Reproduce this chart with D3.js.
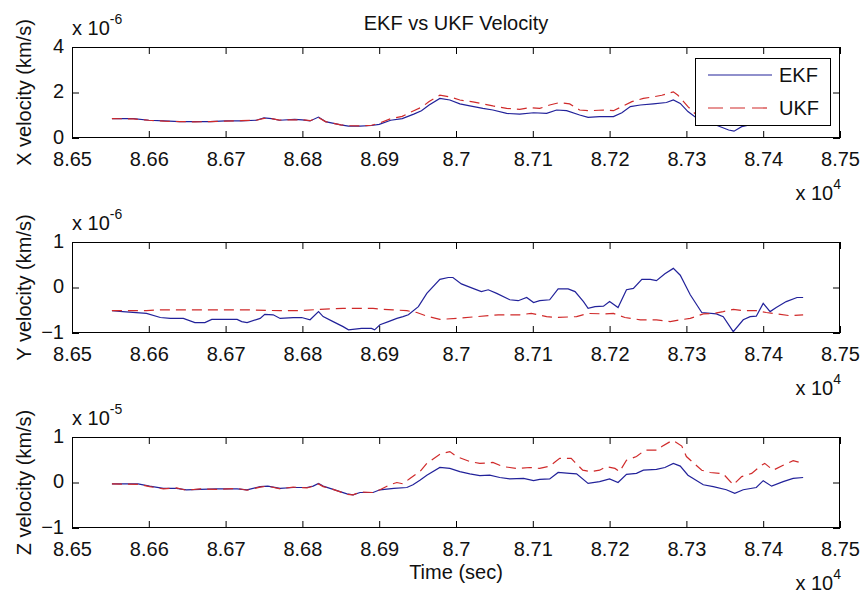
<!DOCTYPE html>
<html>
<head>
<meta charset="utf-8">
<script src="https://cdn.jsdelivr.net/npm/d3@7/dist/d3.min.js"></script>
<style>
  html, body { margin: 0; padding: 0; background: #ffffff; }
  svg { display: block; }
  text { font-family: "Liberation Sans", Arial, Helvetica, sans-serif; fill: #111; }
</style>
</head>
<body>
<svg id="fig" width="863" height="597"></svg>
<script>
// ---- time axis ----
const xTickValues = [86500, 86600, 86700, 86800, 86900, 87000, 87100, 87200, 87300, 87400, 87500];
const xTickLabels = ["8.65", "8.66", "8.67", "8.68", "8.69", "8.7", "8.71", "8.72", "8.73", "8.74", "8.75"];

// ---- X velocity (x 1e-6 km/s) ----
const xEkfT = [86552, 86580, 86600, 86620, 86640, 86660, 86680, 86700, 86720, 86740, 86750, 86760, 86770, 86790, 86800, 86810, 86821, 86830, 86850, 86860, 86875, 86890, 86900, 86915, 86930, 86945, 86955, 86965, 86979, 86992, 87005, 87018, 87035, 87048, 87066, 87083, 87101, 87118, 87131, 87144, 87161, 87172, 87187, 87205, 87216, 87227, 87240, 87257, 87274, 87283, 87292, 87302, 87311, 87325, 87340, 87355, 87362, 87372, 87385, 87400, 87420, 87440, 87452];
const xEkfV = [0.85, 0.85, 0.78, 0.75, 0.72, 0.72, 0.72, 0.75, 0.75, 0.78, 0.88, 0.85, 0.78, 0.82, 0.80, 0.75, 0.92, 0.72, 0.58, 0.52, 0.52, 0.55, 0.60, 0.78, 0.85, 1.05, 1.20, 1.45, 1.74, 1.67, 1.50, 1.41, 1.30, 1.23, 1.08, 1.05, 1.11, 1.08, 1.23, 1.20, 1.01, 0.91, 0.94, 0.94, 1.11, 1.38, 1.45, 1.50, 1.56, 1.67, 1.52, 1.16, 0.94, 0.75, 0.55, 0.35, 0.30, 0.50, 0.60, 0.80, 0.90, 1.00, 1.00];
const xUkfT = [86552, 86580, 86600, 86620, 86640, 86660, 86680, 86700, 86720, 86740, 86750, 86760, 86770, 86790, 86800, 86810, 86821, 86830, 86850, 86860, 86875, 86890, 86900, 86915, 86930, 86945, 86955, 86965, 86979, 86992, 87005, 87022, 87035, 87048, 87066, 87083, 87096, 87109, 87122, 87135, 87148, 87161, 87174, 87192, 87205, 87216, 87229, 87244, 87257, 87268, 87283, 87289, 87302, 87311, 87330, 87350, 87370, 87400, 87452];
const xUkfV = [0.85, 0.84, 0.78, 0.74, 0.72, 0.71, 0.72, 0.74, 0.76, 0.78, 0.86, 0.85, 0.79, 0.80, 0.80, 0.76, 0.90, 0.72, 0.58, 0.54, 0.53, 0.56, 0.65, 0.85, 0.95, 1.20, 1.35, 1.60, 1.88, 1.81, 1.67, 1.59, 1.50, 1.41, 1.30, 1.26, 1.34, 1.30, 1.45, 1.56, 1.50, 1.23, 1.20, 1.23, 1.20, 1.38, 1.60, 1.74, 1.81, 1.88, 2.03, 1.88, 1.38, 1.08, 0.80, 0.70, 0.80, 1.00, 1.10];

// ---- Y velocity (x 1e-6 km/s) ----
const yEkfT = [86552, 86566, 86597, 86615, 86628, 86645, 86660, 86673, 86682, 86715, 86721, 86728, 86745, 86751, 86762, 86771, 86788, 86799, 86810, 86821, 86827, 86840, 86853, 86860, 86877, 86890, 86894, 86901, 86912, 86923, 86931, 86938, 86951, 86962, 86979, 86990, 86996, 87007, 87022, 87033, 87042, 87053, 87070, 87081, 87092, 87101, 87109, 87122, 87133, 87146, 87155, 87166, 87172, 87181, 87192, 87200, 87211, 87222, 87231, 87242, 87253, 87261, 87272, 87283, 87292, 87305, 87320, 87339, 87348, 87361, 87374, 87383, 87391, 87400, 87409, 87417, 87430, 87444, 87452];
const yEkfV = [-0.51, -0.53, -0.57, -0.66, -0.68, -0.68, -0.77, -0.77, -0.70, -0.70, -0.75, -0.77, -0.68, -0.59, -0.60, -0.68, -0.66, -0.66, -0.71, -0.53, -0.64, -0.75, -0.86, -0.93, -0.90, -0.90, -0.93, -0.82, -0.75, -0.68, -0.64, -0.60, -0.42, -0.13, 0.18, 0.22, 0.22, 0.08, -0.02, -0.09, -0.05, -0.13, -0.27, -0.29, -0.22, -0.33, -0.29, -0.27, -0.03, -0.03, -0.09, -0.31, -0.46, -0.42, -0.41, -0.31, -0.44, -0.05, -0.02, 0.18, 0.18, 0.15, 0.30, 0.42, 0.27, -0.16, -0.55, -0.58, -0.64, -0.97, -0.71, -0.64, -0.63, -0.35, -0.53, -0.44, -0.31, -0.22, -0.22];
const yUkfT = [86552, 86597, 86615, 86728, 86771, 86797, 86823, 86853, 86892, 86905, 86918, 86936, 86949, 86962, 86979, 87001, 87027, 87055, 87083, 87098, 87118, 87131, 87157, 87172, 87192, 87205, 87220, 87240, 87261, 87279, 87292, 87305, 87322, 87335, 87348, 87361, 87374, 87391, 87404, 87417, 87435, 87452];
const yUkfV = [-0.51, -0.51, -0.49, -0.49, -0.51, -0.51, -0.48, -0.46, -0.46, -0.48, -0.49, -0.51, -0.55, -0.63, -0.70, -0.68, -0.64, -0.60, -0.60, -0.57, -0.64, -0.66, -0.64, -0.57, -0.58, -0.57, -0.66, -0.71, -0.71, -0.75, -0.71, -0.68, -0.58, -0.57, -0.53, -0.48, -0.51, -0.51, -0.55, -0.58, -0.62, -0.60];

// ---- Z velocity (x 1e-5 km/s) ----
const zEkfT = [86552, 86586, 86601, 86619, 86636, 86649, 86667, 86688, 86715, 86728, 86745, 86755, 86771, 86788, 86806, 86814, 86821, 86827, 86840, 86858, 86866, 86875, 86892, 86901, 86919, 86936, 86944, 86953, 86962, 86979, 86992, 87005, 87018, 87031, 87044, 87057, 87070, 87088, 87101, 87109, 87122, 87133, 87148, 87157, 87172, 87187, 87200, 87211, 87222, 87235, 87244, 87261, 87272, 87283, 87292, 87302, 87322, 87335, 87352, 87363, 87374, 87391, 87400, 87411, 87426, 87439, 87452];
const zEkfV = [-0.03, -0.03, -0.08, -0.13, -0.13, -0.16, -0.15, -0.14, -0.14, -0.16, -0.09, -0.08, -0.13, -0.11, -0.11, -0.08, -0.02, -0.08, -0.15, -0.25, -0.27, -0.22, -0.22, -0.16, -0.13, -0.11, -0.05, 0.05, 0.16, 0.33, 0.31, 0.24, 0.19, 0.15, 0.16, 0.11, 0.08, 0.09, 0.04, 0.07, 0.08, 0.22, 0.20, 0.19, -0.02, 0.02, 0.08, 0.00, 0.18, 0.20, 0.27, 0.29, 0.33, 0.42, 0.36, 0.16, -0.05, -0.09, -0.16, -0.24, -0.16, -0.11, 0.04, -0.08, 0.02, 0.09, 0.11];
const zUkfT = [86552, 86586, 86601, 86619, 86636, 86649, 86667, 86688, 86715, 86728, 86745, 86755, 86771, 86788, 86806, 86814, 86821, 86827, 86840, 86858, 86866, 86875, 86892, 86901, 86914, 86923, 86931, 86940, 86953, 86962, 86979, 86992, 87001, 87018, 87031, 87048, 87061, 87079, 87096, 87109, 87122, 87135, 87150, 87154, 87165, 87176, 87187, 87196, 87207, 87213, 87222, 87235, 87246, 87263, 87268, 87279, 87283, 87294, 87300, 87320, 87331, 87348, 87361, 87372, 87385, 87398, 87402, 87413, 87426, 87439, 87452];
const zUkfV = [-0.03, -0.04, -0.09, -0.14, -0.12, -0.17, -0.14, -0.15, -0.13, -0.17, -0.10, -0.08, -0.14, -0.10, -0.12, -0.08, -0.03, -0.09, -0.15, -0.26, -0.27, -0.21, -0.22, -0.16, -0.05, 0.00, -0.03, 0.09, 0.24, 0.42, 0.62, 0.68, 0.57, 0.46, 0.42, 0.44, 0.35, 0.31, 0.33, 0.31, 0.36, 0.53, 0.53, 0.46, 0.27, 0.24, 0.27, 0.35, 0.31, 0.24, 0.49, 0.57, 0.71, 0.71, 0.79, 0.90, 0.92, 0.80, 0.57, 0.27, 0.22, 0.19, -0.05, 0.13, 0.20, 0.38, 0.42, 0.27, 0.38, 0.48, 0.42];

// ---- panel definitions ----
const panels = [
  { ylabel: "X velocity (km/s)", exp: "-6", domain: [0, 4], ticks: [0, 2, 4],
    ekf: [xEkfT, xEkfV], ukf: [xUkfT, xUkfV], top: 47, legend: true },
  { ylabel: "Y velocity (km/s)", exp: "-6", domain: [-1, 1], ticks: [-1, 0, 1],
    ekf: [yEkfT, yEkfV], ukf: [yUkfT, yUkfV], top: 242 },
  { ylabel: "Z velocity (km/s)", exp: "-5", domain: [-1, 1], ticks: [-1, 0, 1],
    ekf: [zEkfT, zEkfV], ukf: [zUkfT, zUkfV], top: 437 }
];

const EKF_COLOR = "#22229a";
const UKF_COLOR = "#d02a2a";
const LEFT = 72, RIGHT = 840, H = 91, TICK = 7;
const FONT = 20;

const svg = d3.select("#fig");
svg.append("rect").attr("width", 863).attr("height", 597).attr("fill", "#ffffff");

const x = d3.scaleLinear().domain([86500, 87500]).range([LEFT, RIGHT]);
const fmtX = d => xTickLabels[xTickValues.indexOf(d)];

// figure title
svg.append("text")
  .attr("x", (LEFT + RIGHT) / 2).attr("y", 30)
  .attr("text-anchor", "middle").attr("font-size", FONT)
  .text("EKF vs UKF Velocity");

panels.forEach((p, i) => {
  const top = p.top, bottom = top + H;
  const y = d3.scaleLinear().domain(p.domain).range([bottom, top]);
  const g = svg.append("g");

  // axes background
  g.append("rect").attr("x", LEFT).attr("y", top)
    .attr("width", RIGHT - LEFT).attr("height", H).attr("fill", "#ffffff");

  // clip region for data
  const clipId = "clip" + i;
  g.append("clipPath").attr("id", clipId).append("rect")
    .attr("x", LEFT).attr("y", top).attr("width", RIGHT - LEFT).attr("height", H);

  const line = d3.line().x(d => x(d[0])).y(d => y(d[1]));
  const pairs = s => s[0].map((t, k) => [t, s[1][k]]);

  const data = g.append("g").attr("clip-path", `url(#${clipId})`);
  data.append("path").datum(pairs(p.ekf))
    .attr("d", line).attr("fill", "none")
    .attr("stroke", EKF_COLOR).attr("stroke-width", 1.2);
  data.append("path").datum(pairs(p.ukf))
    .attr("d", line).attr("fill", "none")
    .attr("stroke", UKF_COLOR).attr("stroke-width", 1.2)
    .attr("stroke-dasharray", "10,6");

  // bottom axis (inward ticks, with labels)
  const xb = g.append("g").attr("transform", `translate(0,${bottom})`)
    .call(d3.axisBottom(x).tickValues(xTickValues).tickFormat(fmtX)
      .tickSizeInner(-TICK).tickSizeOuter(0).tickPadding(13.5));
  // top axis (mirror ticks)
  const xt = g.append("g").attr("transform", `translate(0,${top})`)
    .call(d3.axisTop(x).tickValues(xTickValues).tickFormat("")
      .tickSizeInner(-TICK).tickSizeOuter(0));
  // left axis
  const yl = g.append("g").attr("transform", `translate(${LEFT},0)`)
    .call(d3.axisLeft(y).tickValues(p.ticks).tickFormat(d3.format("d"))
      .tickSizeInner(-TICK).tickSizeOuter(0).tickPadding(8));
  yl.selectAll(".tick text").attr("dy", "0.26em");
  // right axis (mirror ticks)
  const yr = g.append("g").attr("transform", `translate(${RIGHT},0)`)
    .call(d3.axisRight(y).tickValues(p.ticks).tickFormat("")
      .tickSizeInner(-TICK).tickSizeOuter(0));

  [xb, xt, yl, yr].forEach(a => {
    a.select(".domain").remove();
    a.selectAll(".tick line").attr("stroke", "#000").attr("stroke-width", 1);
    a.selectAll(".tick text").attr("font-size", FONT).attr("fill", "#111")
      .attr("font-family", "'Liberation Sans', Arial, Helvetica, sans-serif");
  });

  // box
  g.append("rect").attr("x", LEFT + 0.5).attr("y", top + 0.5)
    .attr("width", RIGHT - LEFT - 1).attr("height", H - 1)
    .attr("fill", "none").attr("stroke", "#000").attr("stroke-width", 1);

  // y exponent label
  const ey = g.append("text").attr("x", LEFT).attr("y", top - 12)
    .attr("font-size", FONT);
  ey.append("tspan").text("x 10");
  ey.append("tspan").attr("font-size", 14).attr("dy", -11).text(p.exp);

  // x exponent label
  const ex = g.append("text").attr("x", RIGHT + 1).attr("y", bottom + 62)
    .attr("text-anchor", "end").attr("font-size", FONT);
  ex.append("tspan").text("x 10");
  ex.append("tspan").attr("font-size", 14).attr("dy", -11).text("4");

  // y label
  g.append("text")
    .attr("transform", `translate(31,${(top + bottom) / 2}) rotate(-90)`)
    .attr("text-anchor", "middle").attr("font-size", FONT)
    .text(p.ylabel);

  // legend
  if (p.legend) {
    const lg = g.append("g");
    const lx = 695, ly = 58, lw = 135, lh = 67;
    lg.append("rect").attr("x", lx + 0.5).attr("y", ly + 0.5)
      .attr("width", lw).attr("height", lh)
      .attr("fill", "#ffffff").attr("stroke", "#000").attr("stroke-width", 1);
    const entries = [
      { name: "EKF", color: EKF_COLOR, dash: null, cy: ly + 17 },
      { name: "UKF", color: UKF_COLOR, dash: "15,7", cy: ly + 50 }
    ];
    entries.forEach(e => {
      lg.append("line").attr("x1", lx + 13).attr("x2", lx + 77)
        .attr("y1", e.cy).attr("y2", e.cy)
        .attr("stroke", e.color).attr("stroke-width", 1.2)
        .attr("stroke-dasharray", e.dash);
      lg.append("text").attr("x", lx + 84).attr("y", e.cy + 7)
        .attr("font-size", FONT).text(e.name);
    });
  }
});

// x label
svg.append("text")
  .attr("x", (LEFT + RIGHT) / 2).attr("y", 579)
  .attr("text-anchor", "middle").attr("font-size", FONT)
  .text("Time (sec)");
</script>
</body>
</html>
